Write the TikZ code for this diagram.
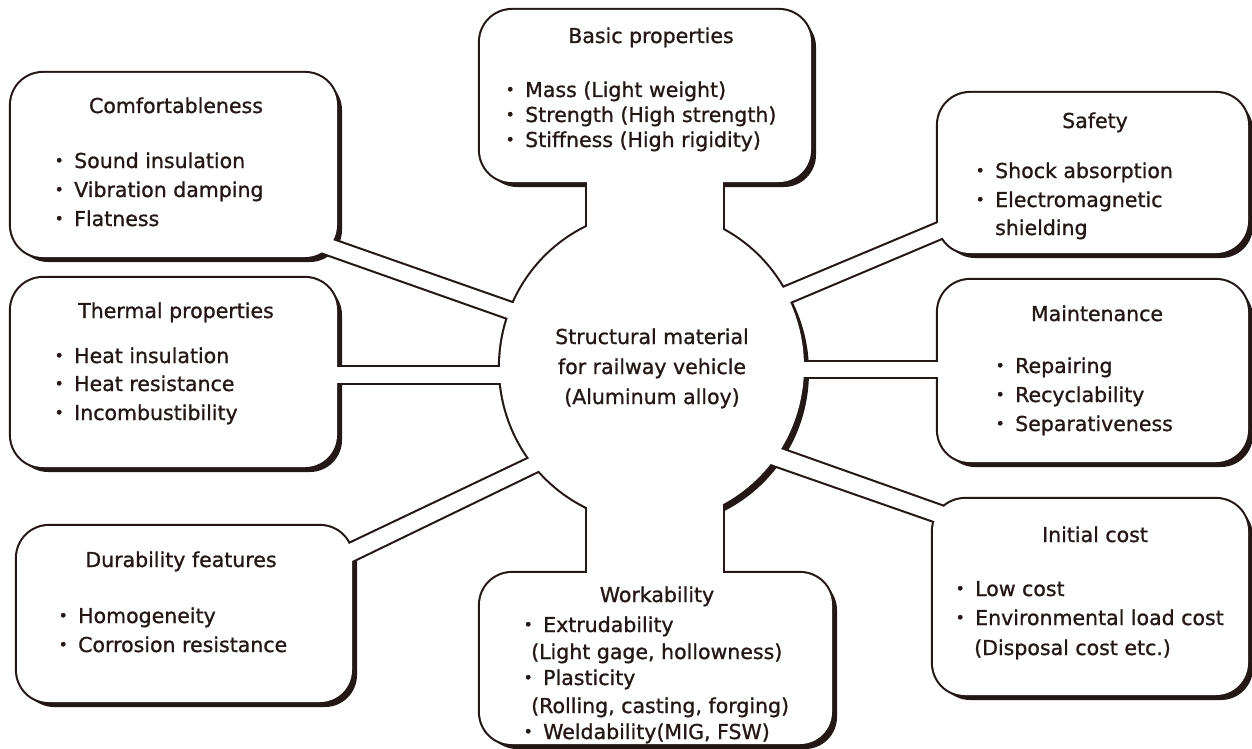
\documentclass[tikz,border=0pt]{standalone}
\usepackage{fontspec}
\setmainfont{DejaVu Sans}[FakeBold=1]
\newfontfamily\cjkdot{Noto Sans CJK JP}[FakeBold=2]
\newcommand\itemdot{\makebox[0pt][c]{\cjkdot ・}\hspace{15bp}}
\definecolor{ink}{RGB}{35,24,21}
\begin{document}
\begin{tikzpicture}[x=1bp,y=-1bp,
  every node/.style={inner sep=0pt, text=ink, font=\fontsize{20.5bp}{25bp}\selectfont},
  title/.style={anchor=base},
  itemline/.style={anchor=base west},
  outline/.style={draw=ink, line width=4.2bp, line join=round},
  boxshape/.style={rounded corners=32bp},
]
\useasboundingbox (0,0) rectangle (1252,749);
\fill[white] (0,0) rectangle (1252,749);
\def\boxlist{11/73/337/257, 11/278/337/467, 17/526/352/702, 480/10/811/182, 480/573/832/744, 938/93/1248/253, 938/280/1248/462, 933/499/1248/695}
\def\striplist{308.1/231.4/540.3/312.9/533.3/327.0/299.1/244.3,
  320/367/525/367/525/383/320/383,
  328.9/553.6/557.1/445.1/567/456.9/334/569.7,
  956.4/215.3/755.3/299.6/762.4/313.7/962.4/229.2,
  955/362/785/362/785/377/955/377,
  965.9/514.7/749.7/438/739.7/453.1/955.9/528.6,
  587/165/723/165/723/260/587/260,
  587/475/723/475/723/590/587/590}
% shadows
\foreach \xa/\ya/\xb/\yb in \boxlist {
  \fill[ink, boxshape] (\xa+5,\ya+5) rectangle (\xb+5,\yb+5);
}
\fill[ink] (657,372) ellipse [x radius=152bp, y radius=155bp];
% outlines
\foreach \xa/\ya/\xb/\yb in \boxlist {
  \draw[outline, boxshape] (\xa,\ya) rectangle (\xb,\yb);
}
\draw[outline] (652,367) ellipse [x radius=152bp, y radius=155bp];
\foreach \xa/\ya/\xb/\yb/\xc/\yc/\xd/\yd in \striplist {
  \draw[outline] (\xa,\ya) -- (\xb,\yb) -- (\xc,\yc) -- (\xd,\yd) -- cycle;
}
% white interiors
\foreach \xa/\ya/\xb/\yb in \boxlist {
  \fill[white, boxshape] (\xa,\ya) rectangle (\xb,\yb);
}
\fill[white] (652,367) ellipse [x radius=152bp, y radius=155bp];
\foreach \xa/\ya/\xb/\yb/\xc/\yc/\xd/\yd in \striplist {
  \fill[white] (\xa,\ya) -- (\xb,\yb) -- (\xc,\yc) -- (\xd,\yd) -- cycle;
}
% centre
\node[title] (z1) at (652,344) {Structural material};
\node[title] (z2) at (652,374) {for railway vehicle};
\node[title] (z3) at (652,404) {(Aluminum alloy)};
% comfortableness
\node[title] (ct) at (176,113) {Comfortableness};
\node[itemline] (c1) at (59,168) {\itemdot Sound insulation};
\node[itemline] (c2) at (59,197) {\itemdot Vibration damping};
\node[itemline] (c3) at (59,226) {\itemdot Flatness};
% thermal
\node[title] (tt) at (176,318) {Thermal properties};
\node[itemline] (t1) at (59,363) {\itemdot Heat insulation};
\node[itemline] (t2) at (59,391) {\itemdot Heat resistance};
\node[itemline] (t3) at (59,420) {\itemdot Incombustibility};
% durability
\node[title] (dt) at (181,567) {Durability features};
\node[itemline] (d1) at (63,623) {\itemdot Homogeneity};
\node[itemline] (d2) at (63,652) {\itemdot Corrosion resistance};
% basic
\node[title] (bt) at (651,43) {Basic properties};
\node[itemline] (b1) at (510,97) {\itemdot Mass (Light weight)};
\node[itemline] (b2) at (510,122) {\itemdot Strength (High strength)};
\node[itemline] (b3) at (510,147) {\itemdot Stiffness (High rigidity)};
% workability
\node[title] (wt) at (657,602) {Workability};
\node[itemline] (w1) at (528,632) {\itemdot Extrudability};
\node[itemline] (w2) at (531,659) {(Light gage, hollowness)};
\node[itemline] (w3) at (528,685) {\itemdot Plasticity};
\node[itemline] (w4) at (531,713) {(Rolling, casting, forging)};
\node[itemline] (w5) at (528,739) {\itemdot Weldability(MIG, FSW)};
% safety
\node[title] (st) at (1095,128) {Safety};
\node[itemline] (s1) at (980,178) {\itemdot Shock absorption};
\node[itemline] (s2) at (980,207) {\itemdot Electromagnetic};
\node[itemline] (s3) at (995,235) {shielding};
% maintenance
\node[title] (mt) at (1097,321) {Maintenance};
\node[itemline] (m1) at (1000,373) {\itemdot Repairing};
\node[itemline] (m2) at (1000,402) {\itemdot Recyclability};
\node[itemline] (m3) at (1000,431) {\itemdot Separativeness};
% initial cost
\node[title] (it) at (1095,542) {Initial cost};
\node[itemline] (i1) at (960,596) {\itemdot Low cost};
\node[itemline] (i2) at (960,625) {\itemdot Environmental load cost};
\node[itemline] (i3) at (974,655) {(Disposal cost etc.)};
\end{tikzpicture}
\end{document}
